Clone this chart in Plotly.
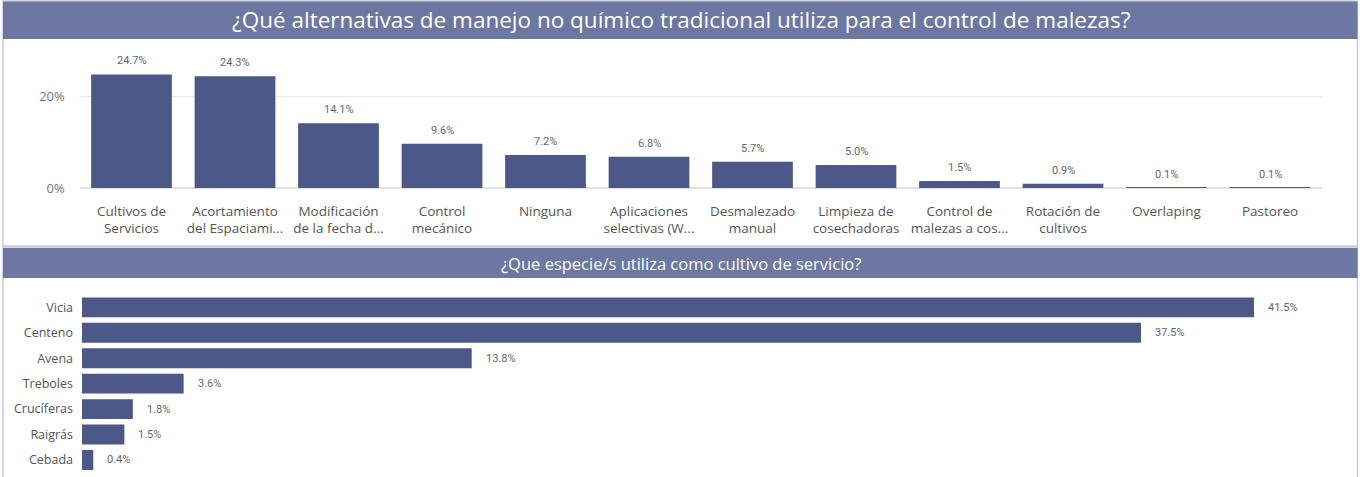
import plotly.graph_objects as go

W, H = 1362, 477

top_categories = [
    "Cultivos de<br>Servicios",
    "Acortamiento<br>del Espaciami...",
    "Modificación<br>de la fecha d...",
    "Control<br>mecánico",
    "Ninguna",
    "Aplicaciones<br>selectivas (W...",
    "Desmalezado<br>manual",
    "Limpieza de<br>cosechadoras",
    "Control de<br>malezas a cos...",
    "Rotación de<br>cultivos",
    "Overlaping",
    "Pastoreo",
]
top_values = [24.7, 24.3, 14.1, 9.6, 7.2, 6.8, 5.7, 5.0, 1.5, 0.9, 0.1, 0.1]
top_tickvals = [0, 20]
top_ticktext = ["0%", "20%"]

bottom_categories = ["Vicia", "Centeno", "Avena", "Treboles", "Crucíferas", "Raigrás", "Cebada"]
bottom_values = [41.5, 37.5, 13.8, 3.6, 1.8, 1.5, 0.4]

title_top = "¿Qué alternativas de manejo no químico tradicional utiliza para el control de malezas?"
title_bottom = "¿Que especie/s utiliza como cultivo de servicio?"

BAR = "#4b5888"
HEAD = "#6c78a1"
BORDER = "#c5c9db"
LABEL_FONT = dict(family="Roboto", size=11, color="#666666")


def px_x(x):
    return x / W


def px_y(y):
    return 1 - y / H


fig = go.Figure()

fig.add_trace(go.Bar(
    x=top_categories, y=top_values,
    marker=dict(color=BAR, line=dict(width=0)),
    xaxis="x", yaxis="y", hoverinfo="skip",
))

fig.add_trace(go.Bar(
    x=bottom_values, y=bottom_categories, orientation="h",
    marker=dict(color=BAR, line=dict(width=0)),
    xaxis="x2", yaxis="y2", hoverinfo="skip",
))

shapes = [
    dict(type="rect", xref="paper", yref="paper",
         x0=px_x(3), x1=px_x(1357.5), y0=px_y(246), y1=px_y(1),
         line=dict(color=BORDER, width=1.5), fillcolor="rgba(0,0,0,0)", layer="below"),
    dict(type="line", xref="paper", yref="paper",
         x0=px_x(3), x1=px_x(3), y0=0, y1=px_y(247),
         line=dict(color=BORDER, width=1.5), layer="below"),
    dict(type="line", xref="paper", yref="paper",
         x0=px_x(1357.5), x1=px_x(1357.5), y0=0, y1=px_y(247),
         line=dict(color=BORDER, width=1.5), layer="below"),
    dict(type="line", xref="paper", yref="paper",
         x0=px_x(3), x1=px_x(1357.5), y0=px_y(247), y1=px_y(247),
         line=dict(color=BORDER, width=1.5), layer="below"),
    dict(type="rect", xref="paper", yref="paper",
         x0=px_x(3), x1=px_x(1357.5), y0=px_y(39), y1=px_y(1.5),
         line=dict(width=0), fillcolor=HEAD, layer="below"),
    dict(type="rect", xref="paper", yref="paper",
         x0=px_x(3), x1=px_x(1357.5), y0=px_y(278), y1=px_y(248),
         line=dict(width=0), fillcolor=HEAD, layer="below"),
]

annotations = [
    dict(text=title_top, xref="paper", yref="paper", x=0.5, y=px_y(20),
         xanchor="center", yanchor="middle", showarrow=False,
         font=dict(family="Open Sans", size=22.5, color="white")),
    dict(text=title_bottom, xref="paper", yref="paper", x=0.5, y=px_y(263),
         xanchor="center", yanchor="middle", showarrow=False,
         font=dict(family="Open Sans", size=16.5, color="white")),
]

for c, v in zip(top_categories, top_values):
    annotations.append(dict(
        text=f"{v:.1f}%", xref="x", yref="y", x=c, y=v,
        xanchor="center", yanchor="bottom", yshift=5, showarrow=False,
        font=LABEL_FONT))

for c, v in zip(bottom_categories, bottom_values):
    annotations.append(dict(
        text=f"{v:.1f}%", xref="x2", yref="y2", x=v, y=c,
        xanchor="left", yanchor="middle", xshift=12, showarrow=False,
        font=LABEL_FONT))

fig.update_layout(
    width=W, height=H, autosize=False,
    margin=dict(l=0, r=0, t=0, b=0, pad=0, autoexpand=False),
    paper_bgcolor="white", plot_bgcolor="white",
    showlegend=False, bargap=0.22,
    shapes=shapes, annotations=annotations,
    xaxis=dict(domain=[px_x(79.75), px_x(1321.75)], anchor="y", automargin=False,
               showgrid=False, zeroline=False, showline=False,
               ticks="", ticklabelstandoff=13,
               tickfont=dict(family="Open Sans", size=13.5, color="#555555"),
               fixedrange=True),
    yaxis=dict(domain=[px_y(188), px_y(50)], anchor="x", range=[0, 30], automargin=False,
               tickvals=top_tickvals, ticktext=top_ticktext,
               showgrid=True, gridcolor="#e9e9e9", gridwidth=1,
               zeroline=True, zerolinecolor="#e3e3e3",
               showline=False, ticks="", ticklabelstandoff=14,
               tickfont=dict(family="Open Sans", size=13, color="#777777"),
               fixedrange=True),
    xaxis2=dict(domain=[px_x(82), px_x(82 + 44 * 28.24)], anchor="y2", range=[0, 44],
                automargin=False,
                showgrid=False, zeroline=False, showline=False,
                showticklabels=False, ticks="", fixedrange=True),
    yaxis2=dict(domain=[px_y(472.7), px_y(294.6)], anchor="x2", automargin=False,
                categoryorder="array", categoryarray=bottom_categories,
                autorange="reversed",
                showgrid=False, zeroline=False, showline=False, ticks="",
                ticklabelstandoff=8,
                tickfont=dict(family="Open Sans", size=12.5, color="#555555"),
                fixedrange=True),
)

fig.write_html("out.html")
